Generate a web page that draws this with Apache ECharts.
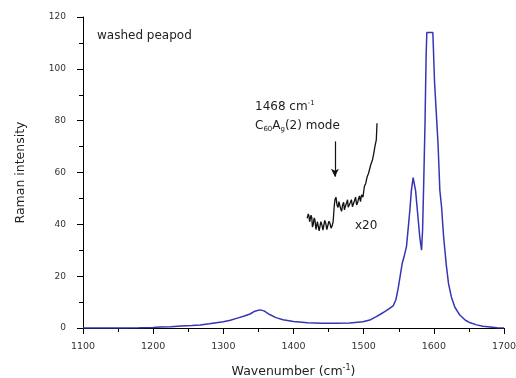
<!DOCTYPE html>
<html>
<head>
<meta charset="utf-8">
<script src="https://cdn.jsdelivr.net/npm/echarts@6/dist/echarts.min.js"></script>
<style>html,body{margin:0;padding:0;background:#fff;}#c{width:516px;height:378px;}</style>
</head>
<body>
<div id="c"></div>
<script>
// Blue spectrum (wavenumber, intensity)
const blueX = [1100,1120,1150,1180,1200,1210,1225,1240,1255,1267,1280,1290,1300,1310,1320,1330,1338,1345,1352,1358,1366,1375,1385,1400,1420,1440,1460,1480,1499,1510,1518,1525,1530,1537,1542,1546,1549,1552,1555,1558,1561,1564,1566,1568,1570.5,1574,1577,1580,1582.5,1584,1585.5,1587.5,1589,1590,1598.6,1601,1603.5,1606,1608.6,1611,1614,1618,1621,1625,1630,1637,1645,1652,1661,1670,1680,1690,1700];
const blueY = [0,0,0,0.1,0.2,0.4,0.5,0.8,1.0,1.2,1.6,2.0,2.4,3.0,3.8,4.6,5.4,6.5,7.0,6.6,5.2,4.0,3.2,2.5,2.0,1.8,1.8,1.9,2.4,3.2,4.4,5.5,6.3,7.6,8.5,11,15,20,25,28,31.4,40,46,53,58,53,44,35,30,38,55,80,105,114,114,95,83,71,53,46.8,35,23.7,17,12,8,5,3,2,1.2,0.7,0.4,0.1,0];
// Black x20 magnified segment
const blackX = [1419.5,1421,1422,1423,1424,1425,1426,1427,1428,1429.5,1430.5,1432,1433,1434,1435,1436.5,1437.6,1439,1440.5,1442,1443,1444.5,1446,1447.5,1449,1450.5,1452,1453.5,1455,1456.5,1458,1459,1460.5,1462,1463.5,1464.7,1466,1467,1468.5,1470,1471.5,1472.6,1474,1475.5,1477,1478,1479.5,1481,1482.5,1484,1485.5,1487,1488.5,1490,1491.5,1492.6,1494,1495.5,1497,1499,1501,1503,1505,1507,1510,1512.6,1514.5,1516,1518,1519];
const blackY = [42.3,44,43.2,41,41.5,43.5,42.7,39,39.8,42.5,41.7,38,38.5,41,40.4,37.5,38.1,41,39.8,37.8,38.5,41.5,40.4,38,38.5,41.2,40.4,38.5,39.4,41,46.8,49.4,50.5,47.5,46.5,48.8,49.5,46.2,45,47.5,48.5,45.6,47,48.1,49.5,46.6,46,48.4,49.5,46.8,47.5,49.2,50.5,47.5,48.5,49.7,51,48.8,51.4,50.5,54.6,55.9,58.4,59.7,62.9,64.9,67.5,70,72.6,79];
// Arrow annotation (data coords)
const arrowX = 1459, arrowTop = 72, arrowBottom = 58.4;
// Axes
const xMin = 1100, xMax = 1700, xInterval = 100;
const yMin = 0, yMax = 120, yInterval = 20;

const blueData = blueX.map((x,i)=>[x, blueY[i]]);
const blackData = blackX.map((x,i)=>[x, blackY[i]]);
const FONT = '"DejaVu Sans", "Liberation Sans", Arial, sans-serif';
const TXT = '#222';

const chart = echarts.init(document.getElementById('c'), null, {renderer:'canvas'});
chart.setOption({
  animation: false,
  backgroundColor: '#fff',
  grid: {left: 83, right: 12, top: 17, bottom: 50, containLabel: false, outerBoundsMode: 'none'},
  xAxis: {
    type: 'value', min: xMin, max: xMax, interval: xInterval,
    name: 'Wavenumber (cm{sup|-1})', nameLocation: 'middle', nameGap: 36,
    nameTextStyle: {fontFamily: FONT, fontSize: 12.5, color: TXT,
      rich: {sup: {fontFamily: FONT, fontSize: 8, color: TXT, padding: [0,0,8,0]}}},
    axisLine: {show: true, onZero: false, lineStyle: {color: '#000', width: 1}},
    axisTick: {show: true, inside: false, length: 6, lineStyle: {color: '#000'}},
    minorTick: {show: true, splitNumber: 2, length: 4, lineStyle: {color: '#000'}},
    splitLine: {show: false},
    axisLabel: {fontFamily: FONT, fontSize: 9.5, color: '#333', margin: 14,
      formatter: v => String(v)}
  },
  yAxis: {
    type: 'value', min: yMin, max: yMax, interval: yInterval,
    name: 'Raman intensity', nameLocation: 'middle', nameGap: 56,
    nameTextStyle: {fontFamily: FONT, fontSize: 12.5, color: TXT},
    axisLine: {show: true, lineStyle: {color: '#000', width: 1}},
    axisTick: {show: true, inside: false, length: 6, lineStyle: {color: '#000'}},
    minorTick: {show: true, splitNumber: 2, length: 4, lineStyle: {color: '#000'}},
    splitLine: {show: false},
    axisLabel: {fontFamily: FONT, fontSize: 9, color: '#333', margin: 17,
      formatter: v => String(v)}
  },
  series: [
    {type: 'line', data: blueData, showSymbol: false, symbol: 'none',
     lineStyle: {color: '#3535b5', width: 1.5}, z: 2},
    {type: 'line', data: blackData, showSymbol: false, symbol: 'none',
     lineStyle: {color: '#111', width: 1.3}, z: 3,
     markLine: {silent: true, symbol: ['none', 'arrow'], symbolSize: [6, 8],
       label: {show: false},
       lineStyle: {color: '#111', width: 1.2, type: 'solid'},
       data: [[{coord: [arrowX, arrowTop]}, {coord: [arrowX, arrowBottom]}]]}}
  ],
  graphic: [
    {type: 'text', left: 97, top: 30, style: {text: 'washed peapod', font: '12px ' + FONT, fill: TXT}},
    {type: 'text', left: 255, top: 100, style: {text: '1468 cm{sup|-1}', font: '12px ' + FONT, fill: TXT,
      rich: {sup: {font: '7px ' + FONT, fill: TXT, padding: [0,0,7,0]}}}},
    {type: 'text', left: 255, top: 120, style: {text: 'C{sub|60}A{sub|g}(2) mode', font: '12px ' + FONT, fill: TXT,
      rich: {sub: {font: '7px ' + FONT, fill: TXT, padding: [7,0,0,0]}}}},
    {type: 'text', left: 355, top: 220, style: {text: 'x20', font: '12px ' + FONT, fill: TXT}}
  ]
});
</script>
</body>
</html>
